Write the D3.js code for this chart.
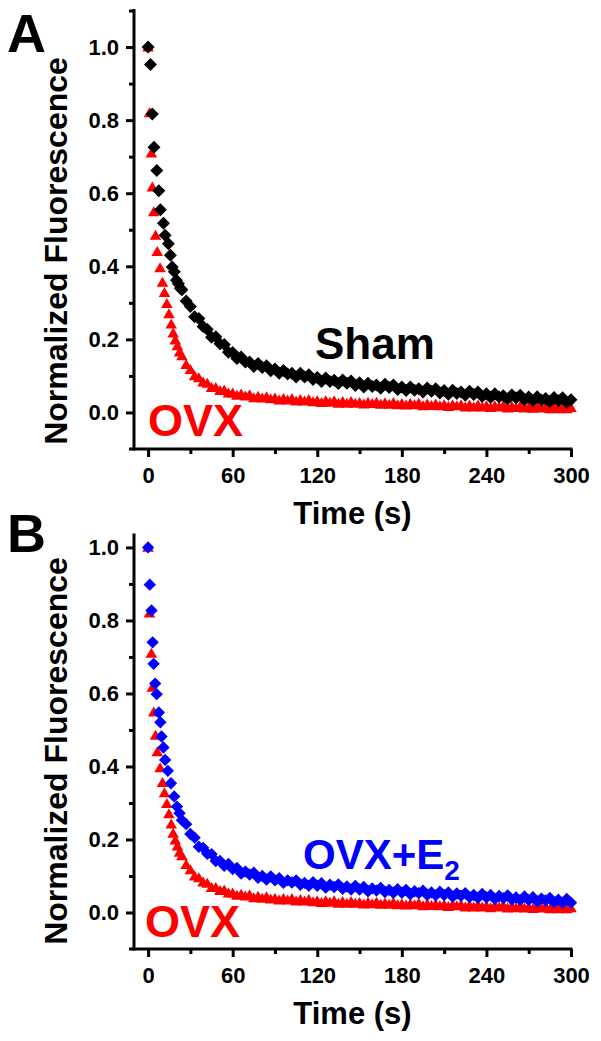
<!DOCTYPE html>
<html><head><meta charset="utf-8">
<script src="https://cdn.jsdelivr.net/npm/d3@7"></script>
<style>
html,body{margin:0;padding:0;background:#fff;}
svg{display:block;}
text{font-family:Arial,"Liberation Sans",Helvetica,sans-serif;font-weight:bold;}
</style></head><body>
<svg id="chart" width="601" height="1041"></svg>
<script>
// ---- tick labels ----
const xMajorTicks = [0, 60, 120, 180, 240, 300];
const xMinorTicks = [30, 90, 150, 210, 270];
const yMajorTicks = [0, 0.2, 0.4, 0.6, 0.8, 1.0];
const yMinorTicksA = [0.1, 0.3, 0.5, 0.7, 0.9, 1.1];
const yMinorTicksB = [0.1, 0.3, 0.5, 0.7, 0.9];

// ---- time samples of the tail (s) ----
const tailTime = [24,27,30,33,36,39,42,45,48,51,54,57,60,63,66,69,72,75,78,81,84,87,90,93,96,99,
  102,105,108,111,114,117,120,123,126,129,132,135,138,141,144,147,150,153,156,159,162,165,168,171,174,177,
  180,183,186,189,192,195,198,201,204,207,210,213,216,219,222,225,228,231,234,237,240,243,246,249,252,255,
  258,261,264,267,270,273,276,279,282,285,288,291,294,297,300];

// ---- Sham (black diamonds) ----
const shamEarlyTime  = [0,1.7,3,4.2,6.2,7.6,8.7,10.9,12.1,14.4,15.8,17.1,18.6,20.1,21.5,22.8];
const shamEarlyValue = [1.0,0.952,0.817,0.726,0.662,0.607,0.555,0.518,0.485,0.462,0.430,0.398,0.385,0.362,0.352,0.340];
const shamTailValue = [
  0.336,0.305,0.290,0.262,0.257,0.235,0.227,0.206,0.207,0.188,
  0.186,0.165,0.164,0.148,0.152,0.138,0.138,0.126,0.134,0.123,
  0.128,0.114,0.119,0.107,0.115,0.105,0.107,0.097,0.107,0.097,
  0.103,0.090,0.096,0.085,0.094,0.085,0.088,0.079,0.089,0.080,
  0.086,0.074,0.081,0.070,0.080,0.071,0.075,0.066,0.077,0.068,
  0.075,0.063,0.070,0.060,0.070,0.061,0.065,0.056,0.067,0.058,
  0.065,0.053,0.060,0.050,0.061,0.052,0.056,0.047,0.058,0.049,
  0.056,0.044,0.051,0.041,0.051,0.042,0.046,0.037,0.048,0.040,
  0.047,0.035,0.042,0.033,0.043,0.034,0.038,0.030,0.041,0.032,
  0.040,0.028,0.035];

// ---- OVX (red triangles) ----
const ovxEarlyTime  = [0,1,2.3,3,4,5.3,6.5,8.5,10.2,11.6,13.3,14.8,16.4,17.8,19.3,20.8,22.3];
const ovxEarlyValue = [1.0,0.82,0.71,0.617,0.549,0.485,0.44,0.396,0.356,0.328,0.298,0.27,0.242,0.217,0.198,0.182,0.165];
const ovxTailValue = [
  0.155,0.131,0.117,0.100,0.095,0.083,0.080,0.068,0.068,0.060,
  0.061,0.053,0.053,0.047,0.050,0.045,0.048,0.040,0.044,0.039,
  0.043,0.037,0.039,0.034,0.038,0.034,0.038,0.031,0.035,0.031,
  0.035,0.029,0.032,0.027,0.032,0.028,0.032,0.025,0.030,0.025,
  0.030,0.025,0.027,0.023,0.028,0.024,0.028,0.022,0.026,0.022,
  0.027,0.021,0.024,0.020,0.024,0.021,0.025,0.018,0.023,0.019,
  0.023,0.018,0.021,0.016,0.021,0.018,0.021,0.015,0.020,0.015,
  0.020,0.015,0.018,0.013,0.018,0.015,0.019,0.012,0.017,0.013,
  0.018,0.012,0.015,0.011,0.016,0.012,0.016,0.010,0.015,0.010,
  0.015,0.010,0.013];

// ---- OVX+E2 (blue diamonds) ----
const e2EarlyTime  = [0,1.2,2.4,3.2,3.9,5,6.1,7.6,8.7,9.5,10.9,12.1,14,16.2,18.5,20.5,22.3];
const e2EarlyValue = [1.0,0.898,0.827,0.74,0.681,0.627,0.598,0.548,0.521,0.482,0.452,0.418,0.388,0.354,0.318,0.29,0.272];
const e2TailValue = [
  0.253,0.242,0.215,0.205,0.180,0.177,0.161,0.160,0.141,0.141,
  0.128,0.133,0.119,0.122,0.107,0.112,0.104,0.109,0.095,0.100,
  0.090,0.099,0.088,0.094,0.081,0.088,0.082,0.088,0.076,0.081,
  0.073,0.083,0.073,0.080,0.068,0.076,0.070,0.077,0.065,0.071,
  0.063,0.073,0.063,0.070,0.058,0.066,0.060,0.067,0.056,0.062,
  0.054,0.064,0.054,0.062,0.050,0.058,0.053,0.060,0.048,0.055,
  0.047,0.057,0.048,0.055,0.043,0.052,0.046,0.053,0.042,0.048,
  0.040,0.051,0.041,0.048,0.037,0.045,0.039,0.047,0.035,0.041,
  0.034,0.044,0.034,0.042,0.030,0.038,0.033,0.040,0.028,0.035,
  0.027,0.037,0.027];

function series(earlyT, earlyV, tailV) {
  const t = earlyT.concat(tailTime), v = earlyV.concat(tailV);
  return t.map((d, i) => ({t: d, v: v[i]}));
}
const sham = series(shamEarlyTime, shamEarlyValue, shamTailValue);
const ovx  = series(ovxEarlyTime, ovxEarlyValue, ovxTailValue);
const e2   = series(e2EarlyTime, e2EarlyValue, e2TailValue);

const diamond = "M0,-6.5L6.5,0L0,6.5L-6.5,0Z";
const diamondB = "M0,-6.2L6.2,0L0,6.2L-6.2,0Z";
const triangle = "M0,-5.6L5.8,4.4L-5.8,4.4Z";

const svg = d3.select("#chart");
const x = d3.scaleLinear().domain([-10, 300]).range([134, 571]);

const panels = [
  {letter: "A", top: 0, yDomain: [-0.1, 1.1], yRange: [449, 10.5], minor: yMinorTicksA,
   series: [{d: ovx, path: triangle, color: "#ff0000"}, {d: sham, path: diamond, color: "#000000"}],
   labels: [{text: "Sham", x: 315, y: 359, size: 44, color: "#000"},
            {text: "OVX", x: 148, y: 436, size: 45, color: "#ff0000"}]},
  {letter: "B", top: 500, yDomain: [-0.1, 1.034], yRange: [949, 535], minor: yMinorTicksB,
   series: [{d: ovx, path: triangle, color: "#ff0000"}, {d: e2, path: diamondB, color: "#0000ff"}],
   labels: [{text: "OVX", x: 145, y: 937, size: 45, color: "#ff0000"},
            {text: "OVX+E", sub: "2", x: 303, y: 869, size: 42, color: "#0000ff"}]}
];

panels.forEach(p => {
  const y = d3.scaleLinear().domain(p.yDomain).range(p.yRange);
  const g = svg.append("g");
  const xAxisY = y(p.yDomain[0]);

  // data
  p.series.forEach(s => {
    g.append("g").selectAll("path").data(s.d).join("path")
      .attr("d", s.path)
      .attr("fill", s.color)
      .attr("transform", d => `translate(${x(d.t)},${y(d.v)})`);
  });

  // x axis
  const xa = g.append("g").attr("transform", `translate(0,${xAxisY})`)
    .call(d3.axisBottom(x).tickValues(xMajorTicks).tickSize(8).tickPadding(10).tickFormat(d3.format("d")));
  const xm = g.append("g").attr("transform", `translate(0,${xAxisY})`)
    .call(d3.axisBottom(x).tickValues(xMinorTicks).tickSize(5).tickFormat(""));
  // y axis
  const ya = g.append("g").attr("transform", `translate(${x.range()[0]},0)`)
    .call(d3.axisLeft(y).tickValues(yMajorTicks).tickSize(8).tickPadding(7).tickFormat(d3.format(".1f")));
  const ym = g.append("g").attr("transform", `translate(${x.range()[0]},0)`)
    .call(d3.axisLeft(y).tickValues(p.minor).tickSize(5).tickFormat(""));

  [xa, xm, ya, ym].forEach(a => {
    a.select(".domain").remove();
    a.selectAll(".tick line").attr("stroke", "#000").attr("stroke-width", 3);
    a.selectAll(".tick text").attr("fill", "#000").attr("font-size", 22)
      .attr("font-family", 'Arial,"Liberation Sans",Helvetica,sans-serif').attr("font-weight", "bold");
  });
  // axis lines
  g.append("line").attr("x1", x.range()[0] - 5).attr("x2", x.range()[1] + 1.5)
    .attr("y1", xAxisY).attr("y2", xAxisY).attr("stroke", "#000").attr("stroke-width", 3);
  g.append("line").attr("x1", x.range()[0]).attr("x2", x.range()[0])
    .attr("y1", p.yRange[1] - 1.5).attr("y2", xAxisY + 1.5).attr("stroke", "#000").attr("stroke-width", 3);

  // axis titles
  g.append("text").attr("x", (x.range()[0] + x.range()[1]) / 2).attr("y", p.top + 524)
    .attr("text-anchor", "middle").attr("font-size", 31).text("Time (s)");
  g.append("text").attr("transform", `translate(67,${p.top + 251}) rotate(-90)`)
    .attr("text-anchor", "middle").attr("font-size", 32).text("Normalized Fluorescence");

  // panel letter
  g.append("text").attr("x", 7).attr("y", p.top + 52).attr("font-size", 54).text(p.letter);

  // annotations
  p.labels.forEach(l => {
    const t = g.append("text").attr("x", l.x).attr("y", l.y).attr("font-size", l.size).attr("fill", l.color);
    t.append("tspan").text(l.text);
    if (l.sub) t.append("tspan").attr("font-size", 28).attr("dy", 11).text(l.sub);
  });
});
</script>
</body></html>
